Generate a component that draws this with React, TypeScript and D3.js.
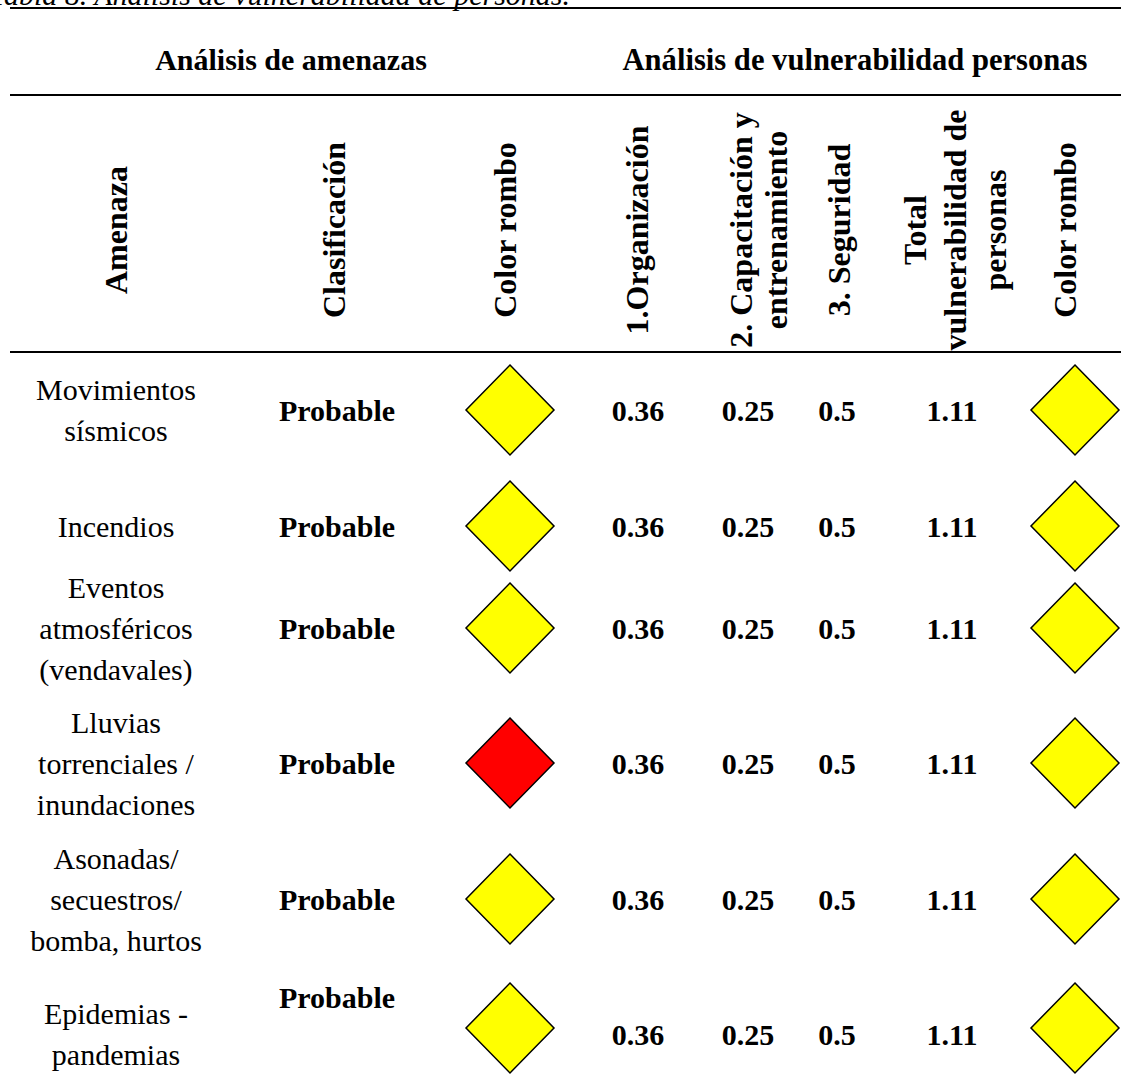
import React from "react";
import * as d3 from "d3";

const caption = "Tabla 8. Análisis de vulnerabilidad de personas.";
const groupHeaders = ["Análisis de amenazas", "Análisis de vulnerabilidad personas"];
const columnKeys = ["amenaza", "clasificacion", "rombo1", "org", "cap", "seg", "total", "rombo2"];
const columnHeaders: string[][] = [
  ["Amenaza"],
  ["Clasificación"],
  ["Color rombo"],
  ["1.Organización"],
  ["2. Capacitación y", "entrenamiento"],
  ["3. Seguridad"],
  ["Total", "vulnerabilidad de", "personas"],
  ["Color rombo"],
];
const threats: string[][] = [
  ["Movimientos", "sísmicos"],
  ["Incendios"],
  ["Eventos", "atmosféricos", "(vendavales)"],
  ["Lluvias", "torrenciales /", "inundaciones"],
  ["Asonadas/", "secuestros/", "bomba, hurtos"],
  ["Epidemias -", "pandemias"],
];
const classification = ["Probable", "Probable", "Probable", "Probable", "Probable", "Probable"];
const threatColor = ["yellow", "yellow", "yellow", "red", "yellow", "yellow"];
const organizacion = [0.36, 0.36, 0.36, 0.36, 0.36, 0.36];
const capacitacion = [0.25, 0.25, 0.25, 0.25, 0.25, 0.25];
const seguridad = [0.5, 0.5, 0.5, 0.5, 0.5, 0.5];
const totalVuln = [1.11, 1.11, 1.11, 1.11, 1.11, 1.11];
const vulnColor = ["yellow", "yellow", "yellow", "yellow", "yellow", "yellow"];

const colorMap: Record<string, string> = { yellow: "#FFFF00", red: "#FF0000" };
const FONT = "'Times New Roman', 'Liberation Serif', serif";
const FS = 30;
const HFS = 32;
const LH = 41;

export default function App() {
  const W = 1121;
  const H = 1080;
  const x = d3
    .scaleOrdinal<string, number>()
    .domain(columnKeys)
    .range([116, 337, 510, 638, 748, 837, 952, 1075]);
  const hx = d3
    .scaleOrdinal<string, number>()
    .domain(columnKeys)
    .range([116, 334, 505, 637, 758, 839, 955, 1065]);
  const rowIdx = d3.range(threats.length);
  const y = d3
    .scaleOrdinal<number, number>()
    .domain(rowIdx)
    .range([410, 526, 628, 763, 899, 1034]);
  const line = d3.line<[number, number]>();
  const diamond = (cx: number, cy: number) =>
    line([
      [cx, cy - 45],
      [cx + 44, cy],
      [cx, cy + 45],
      [cx - 44, cy],
      [cx, cy - 45],
    ]) + "Z";
  const fmt = (v: number) => String(v);

  const ruleYs = [8, 95, 352];
  const headerCY = 230;

  return (
    <svg
      width={W}
      height={H}
      style={{ position: "absolute", left: 0, top: 0, background: "#fff" }}
      fontFamily={FONT}
    >
      <rect x={0} y={0} width={W} height={H} fill="#fff" />
      <text x={570} y={5} fontSize={FS} fontStyle="italic" textAnchor="end">
        {caption}
      </text>
      {ruleYs.map((ry, i) => (
        <line key={i} x1={10} x2={W} y1={ry} y2={ry} stroke="#000" strokeWidth={2} />
      ))}
      <text x={291} y={70} fontSize={FS} fontWeight="bold" textAnchor="middle">
        {groupHeaders[0]}
      </text>
      <text x={855} y={70} fontSize={30.6} fontWeight="bold" textAnchor="middle">
        {groupHeaders[1]}
      </text>
      {columnKeys.map((k, ci) => {
        const lines = columnHeaders[ci];
        const lh = lines.length > 2 ? 40 : 35;
        return (
          <g key={k} transform={`translate(${hx(k)},${headerCY}) rotate(-90)`}>
            {lines.map((t, li) => (
              <text
                key={li}
                x={0}
                y={(li - (lines.length - 1) / 2) * lh}
                fontSize={HFS}
                fontWeight="bold"
                textAnchor="middle"
                dominantBaseline="central"
              >
                {t}
              </text>
            ))}
          </g>
        );
      })}
      {rowIdx.map((r) => {
        const cy = y(r);
        const isLast = r === threats.length - 1;
        const tl = threats[r];
        return (
          <g key={r}>
            {tl.map((t, li) => (
              <text
                key={li}
                x={x("amenaza")}
                y={cy + (li - (tl.length - 1) / 2) * LH}
                fontSize={FS}
                textAnchor="middle"
                dominantBaseline="central"
              >
                {t}
              </text>
            ))}
            <text
              x={x("clasificacion")}
              y={isLast ? cy - 37 : cy}
              fontSize={FS}
              fontWeight="bold"
              textAnchor="middle"
              dominantBaseline="central"
            >
              {classification[r]}
            </text>
            <path
              d={diamond(x("rombo1"), isLast ? cy - 6 : cy)}
              fill={colorMap[threatColor[r]]}
              stroke="#000"
              strokeWidth={1.5}
            />
            {[
              ["org", organizacion[r]],
              ["cap", capacitacion[r]],
              ["seg", seguridad[r]],
              ["total", totalVuln[r]],
            ].map(([k, v]) => (
              <text
                key={k as string}
                x={x(k as string)}
                y={cy}
                fontSize={FS}
                fontWeight="bold"
                textAnchor="middle"
                dominantBaseline="central"
              >
                {fmt(v as number)}
              </text>
            ))}
            <path
              d={diamond(x("rombo2"), isLast ? cy - 6 : cy)}
              fill={colorMap[vulnColor[r]]}
              stroke="#000"
              strokeWidth={1.5}
            />
          </g>
        );
      })}
    </svg>
  );
}
